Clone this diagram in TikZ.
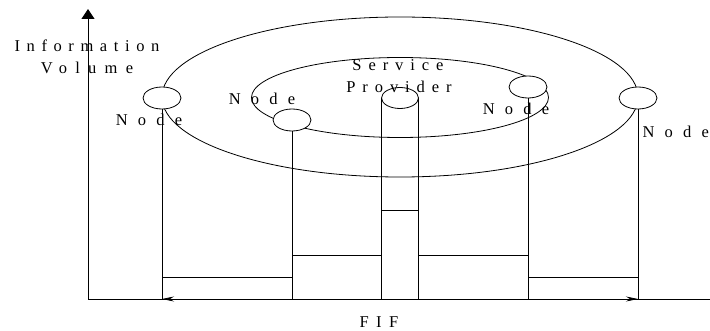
\documentclass[tikz,border=0pt]{standalone}
\usepackage{fontspec}
\setmainfont{Liberation Serif}
\usetikzlibrary{shapes.geometric,arrows.meta}
\newcommand{\lsp}[2]{{\addfontfeatures{LetterSpace=#1}#2}}
\begin{document}
\begin{tikzpicture}[x=1pt,y=-1pt,
  every node/.style={inner sep=0pt,outer sep=0pt},
  ring/.style={draw,ellipse,line width=0.8pt},
  nodeell/.style={draw,ellipse,fill=white,minimum width=38pt,minimum height=22pt,line width=0.8pt},
  spell/.style={draw,ellipse,minimum width=37pt,minimum height=21pt,line width=0.8pt},
  lbl/.style={font=\fontsize{16.5}{18}\selectfont},
  ln/.style={line width=0.8pt}]
\useasboundingbox (0,0) rectangle (710,331);
% rings
\node[ring,minimum width=476pt,minimum height=160pt] (outer) at (400,97) {};
\node[ring,minimum width=297pt,minimum height=80pt] (inner) at (400,97.5) {};
% small nodes
\node[nodeell] (n1) at (162,98) {};
\node[nodeell] (n2) at (292,120) {};
\node[spell] (sp) at (400,98) {};
\node[nodeell] (n3) at (528,87) {};
\node[nodeell] (n4) at (638,98) {};
% axes
\coordinate (orig) at (88,299);
\coordinate (ytip) at (88,9);
\coordinate (xend) at (710,299);
\coordinate (lv1) at (0,277);
\coordinate (lv2) at (0,255);
\coordinate (lv3) at (0,210);
\draw[ln,-{Triangle[width=13pt,length=10pt]}] (orig) -- (ytip);
\draw[ln] (orig) -- (xend);
\draw[ln,{Stealth[length=12pt,width=5pt]}-{Stealth[length=12pt,width=5pt]}] (n1.south |- orig) -- (n4.south |- orig);
% verticals
\draw[ln] (n1.south) -- (n1.south |- orig);
\draw[ln] (n2.south) -- (n2.south |- orig);
\draw[ln] (sp.west) -- (sp.west |- orig);
\draw[ln] (sp.east) -- (sp.east |- orig);
\draw[ln] (n3.south) -- (n3.south |- orig);
\draw[ln] (n4.south) -- (n4.south |- orig);
% steps
\draw[ln] (n1.south |- lv1) -- (n2.south |- lv1);
\draw[ln] (n2.south |- lv2) -- (sp.west |- lv2);
\draw[ln] (sp.west |- lv3) -- (sp.east |- lv3);
\draw[ln] (sp.east |- lv2) -- (n3.south |- lv2);
\draw[ln] (n3.south |- lv1) -- (n4.south |- lv1);
% labels
\node[lbl] (tinfo) at (87,46) {\lsp{40}{Information}};
\node[lbl] (tvol) at (87,68) {\lsp{50}{Volume}};
\node[lbl] (t1) at (149,120) {\lsp{62}{Node}};
\node[lbl] (t2) at (262,99) {\lsp{62}{Node}};
\node[lbl] (tserv) at (398,65) {\lsp{42}{Service}};
\node[lbl] (tprov) at (399,87) {\lsp{42}{Provider}};
\node[lbl] (t3) at (516,109) {\lsp{62}{Node}};
\node[lbl,anchor=east] (t4) at (709,132) {\lsp{62}{Node}};
\node[lbl] (tfif) at (379,322) {\lsp{45}{FIF}};
\end{tikzpicture}
\end{document}
